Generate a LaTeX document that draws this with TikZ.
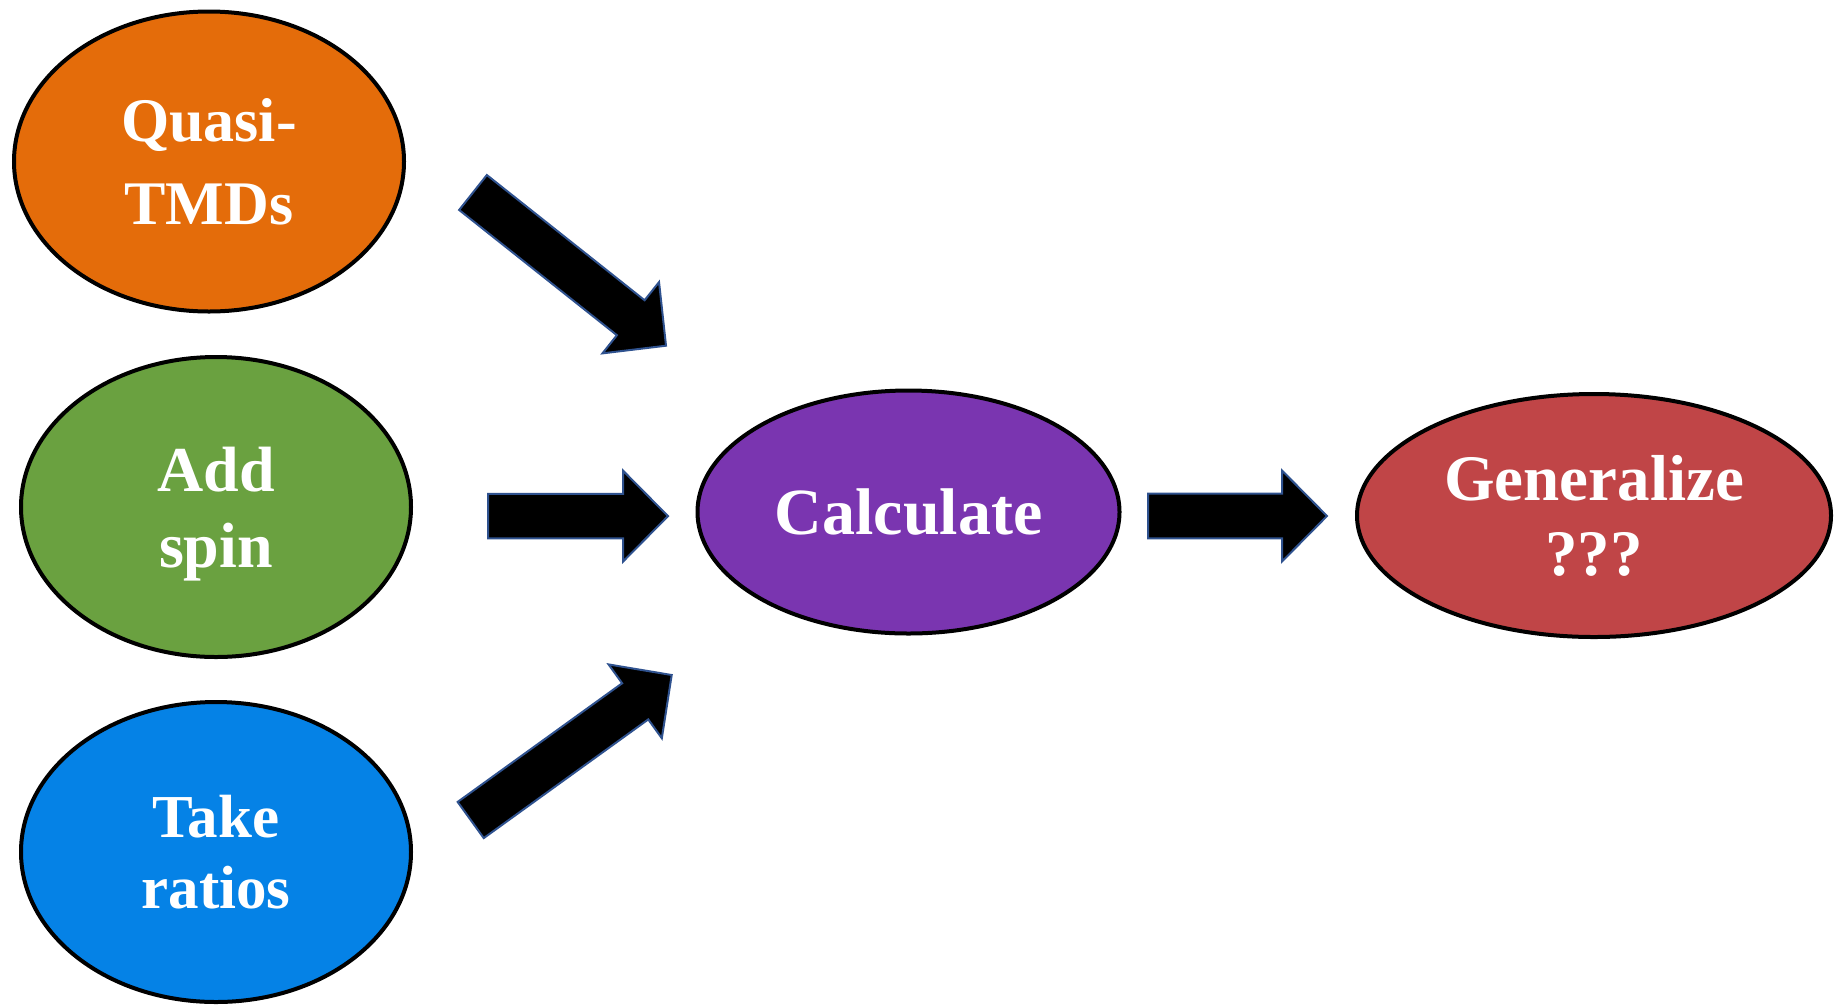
\documentclass[tikz,border=0pt]{standalone}
\usepackage{fontspec}
\setmainfont{Liberation Serif}
\usepackage{tikz}
\usetikzlibrary{calc,positioning,shapes}
\definecolor{my_orange}{HTML}{E46C0A}
\definecolor{my_green}{HTML}{6AA140}
\definecolor{my_blue}{HTML}{0582E6}
\definecolor{my_purple}{HTML}{7A35B0}
\definecolor{my_red}{HTML}{C04547}
\definecolor{my_edge}{HTML}{2F528F}
\tikzset{
  bubble/.style = {ellipse, draw=black, line width=4pt, inner sep=0pt, align=center,
  text=white, font=\bfseries},
  fatarrow/.style = {fill=black, draw=my_edge, line width=2pt, line join=miter}
}
% block arrow from tail #1 to tip #2
\newcommand{\fatarrow}[2]{%
  \coordinate (#1-neck) at ($(#2)!45pt!(#1)$);
  \draw[fatarrow] ($(#1)!22.3pt!90:(#2)$) -- ($(#1-neck)!22.3pt!90:(#2)$)
    -- ($(#1-neck)!45.5pt!90:(#2)$) -- (#2) -- ($(#1-neck)!45.5pt!-90:(#2)$)
    -- ($(#1-neck)!22.3pt!-90:(#2)$) -- ($(#1)!22.3pt!-90:(#2)$) -- cycle;}

\begin{document}
\begin{tikzpicture}[x=1pt, y=-1pt,
        small/.style={minimum width=390pt, minimum height=300pt},
        big/.style={minimum height=243pt}]
    \useasboundingbox (0,0) rectangle (1835,1005);
    \node [bubble, small, fill=my_orange, font=\bfseries\fontsize{62}{83}\selectfont]
        (quasi) at (209,161.5) {Quasi-\\TMDs};
    \node [bubble, small, fill=my_green, font=\bfseries\fontsize{64}{76}\selectfont]
        (spin) at (216,507) {Add\\\raisebox{0pt}[\height][0pt]{spin}};
    \node [bubble, small, fill=my_blue, font=\bfseries\fontsize{61}{71}\selectfont]
        (ratios) at (216,852) {Take\\ratios};
    \node [bubble, big, minimum width=422pt, fill=my_purple, font=\bfseries\fontsize{66}{76}\selectfont]
        (calc) at (908.5,512) {Calculate};
    \node [bubble, big, minimum width=474pt, fill=my_red, font=\bfseries\fontsize{65}{75}\selectfont]
        (gen) at (1594,515.5) {Generalize\\???};

    % arrow ends
    \coordinate (q-tail) at (473,192.5);
    \coordinate (q-tip) at (666,345.7);
    \coordinate (s-tail) at (488,516.1);
    \coordinate (s-tip) at (668,516.1);
    \coordinate (r-tail) at (470.7,820);
    \coordinate (r-tip) at (671.7,675);
    \coordinate (c-tail) at (1148,516);
    \coordinate (c-tip) at (1327,516);
    \fatarrow{q-tail}{q-tip}
    \fatarrow{s-tail}{s-tip}
    \fatarrow{r-tail}{r-tip}
    \fatarrow{c-tail}{c-tip}
\end{tikzpicture}
\end{document}
